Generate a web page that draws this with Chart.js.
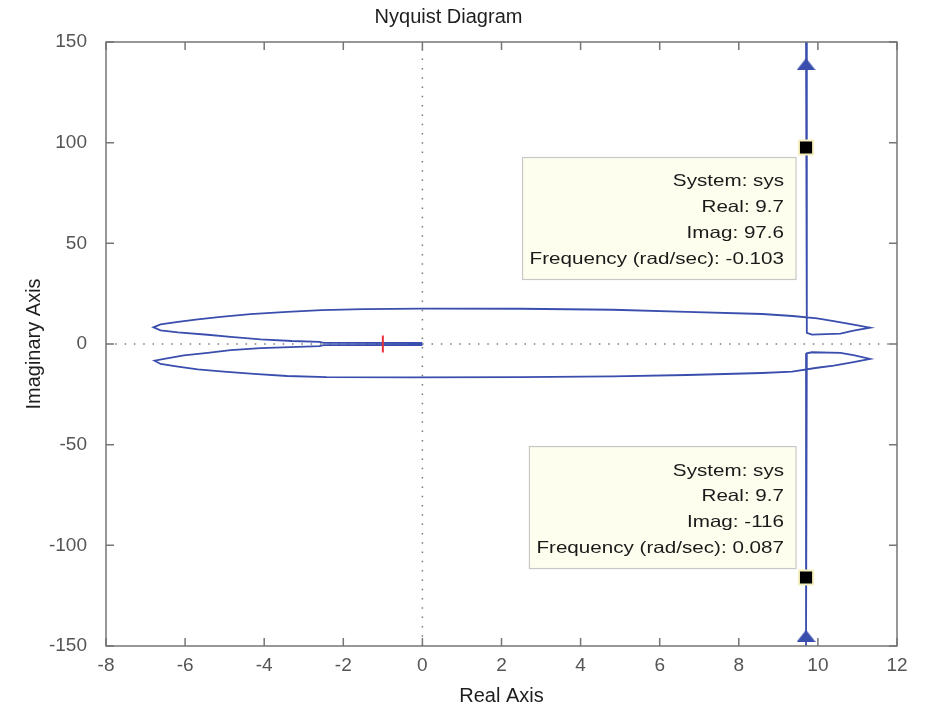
<!DOCTYPE html>
<html>
<head>
<meta charset="utf-8">
<script src="https://cdn.jsdelivr.net/npm/chart.js@4/dist/chart.umd.min.js"></script>
<style>
  html, body { margin: 0; padding: 0; background: #ffffff; }
  #wrap { width: 930px; height: 706px; }
  canvas { display: block; }
</style>
</head>
<body>
<div id="wrap"><canvas id="c" width="930" height="706"></canvas></div>
<script>
// ---------- data ----------
const chartTitle = 'Nyquist Diagram';
const xLabel = 'Real Axis';
const yLabel = 'Imaginary Axis';
const systemName = 'sys';

// upper branch: from +j infinity down, around right lobe, along top to left tip, back to origin
const realUpper = [9.7, 9.72, 9.85, 10.57, 10.9, 11.32, 10.9, 10.4, 9.98, 9.36, 8.59, 6.69, 4.82, 2.5, 0, -1.5, -2.55, -3.42, -4.35, -5.1, -5.68, -6.18, -6.62, -6.8, -6.62, -6.18, -5.43, -4.85, -4.09, -3.3, -2.6, -2.5, 0];
const imagUpper = [150, 5.5, 4.7, 5.2, 6.6, 8.1, 9.6, 11.4, 12.7, 13.9, 14.9, 16.0, 17.0, 17.5, 17.6, 17.3, 16.8, 16.0, 14.8, 13.5, 12.2, 11.0, 9.7, 8.3, 6.8, 5.8, 4.6, 3.5, 2.3, 1.5, 1.1, 0.6, 0.5];

// lower branch: from origin out to left tip, along bottom to right lobe, down to -j infinity
const realLower = [0, -2.5, -2.6, -4.09, -4.85, -5.43, -6.03, -6.53, -6.77, -6.62, -6.18, -5.68, -5.02, -4.26, -3.42, -2.42, -0.24, 2.5, 4.82, 6.69, 8.59, 9.35, 9.98, 10.4, 10.9, 11.32, 10.9, 10.57, 9.85, 9.72, 9.7];
const imagLower = [-0.5, -0.6, -1.1, -2.0, -3.0, -4.4, -5.7, -7.4, -8.3, -9.9, -11.2, -12.6, -13.7, -14.8, -15.9, -16.5, -16.6, -16.5, -16.1, -15.4, -14.4, -13.7, -11.8, -10.7, -9.0, -7.4, -5.5, -4.4, -4.1, -4.6, -150];

// direction arrows
const arrowRe = [9.7, 9.7];
const arrowIm = [139, -145];

// data tips
const tipRe = [9.7, 9.7];
const tipIm = [97.6, -116];
const tipFreq = ['-0.103', '0.087'];

// critical point -1 + j0
const critRe = [-1];
const critIm = [0];

// axes
const xMin = -8, xMax = 12, xStep = 2;
const yMin = -150, yMax = 150, yStep = 50;

// ---------- helpers ----------
const toXY = (xs, ys) => xs.map((v, i) => ({ x: v, y: ys[i] }));
const FONT = "'Liberation Sans', Arial, Helvetica, sans-serif";
const LINE = '#3a4eae';

// triangle arrow image
const tri = document.createElement('canvas');
tri.width = 19; tri.height = 12;
{
  const t = tri.getContext('2d');
  t.fillStyle = LINE;
  t.beginPath();
  t.moveTo(0, 12); t.lineTo(9.5, 0); t.lineTo(19, 12); t.closePath();
  t.fill();
}

const framePlugin = {
  id: 'frame',
  afterDatasetsDraw(chart) {
    const { ctx, chartArea: a, scales: { x, y } } = chart;
    ctx.save();
    ctx.strokeStyle = '#767676';
    ctx.lineWidth = 1.5;
    ctx.strokeRect(a.left, a.top, a.right - a.left, a.bottom - a.top);
    ctx.beginPath();
    const L = 8;
    x.ticks.forEach(t => {
      const p = x.getPixelForValue(t.value);
      ctx.moveTo(p, a.bottom); ctx.lineTo(p, a.bottom - L);
      ctx.moveTo(p, a.top); ctx.lineTo(p, a.top + L);
    });
    y.ticks.forEach(t => {
      const p = y.getPixelForValue(t.value);
      ctx.moveTo(a.left, p); ctx.lineTo(a.left + L, p);
      ctx.moveTo(a.right, p); ctx.lineTo(a.right - L, p);
    });
    ctx.stroke();
    ctx.restore();
  }
};

const SX = 1.25; // horizontal stretch of the datatip lettering
const datatipPlugin = {
  id: 'datatips',
  afterDatasetsDraw(chart) {
    const { ctx, scales: { x, y } } = chart;
    tipRe.forEach((re, i) => {
      const px = x.getPixelForValue(re);
      const py = y.getPixelForValue(tipIm[i]);
      const lines = ['System: ' + systemName, 'Real: ' + re, 'Imag: ' + tipIm[i], 'Frequency (rad/sec): ' + tipFreq[i]];
      ctx.save();
      ctx.font = '16.5px ' + FONT;
      const maxW = Math.max(...lines.map(l => ctx.measureText(l).width)) * SX;
      const w = maxW + 19, h = 122;
      const right = px - 10;
      const top = tipIm[i] > 0 ? py + 10 : py - 9 - h;
      const left = right - w;
      ctx.fillStyle = '#fefeee';
      ctx.fillRect(left, top, w, h);
      ctx.strokeStyle = '#c8c8c8';
      ctx.lineWidth = 1.2;
      ctx.strokeRect(left, top, w, h);
      ctx.fillStyle = '#1a1a1a';
      ctx.textAlign = 'right';
      ctx.textBaseline = 'alphabetic';
      lines.forEach((l, k) => {
        ctx.save();
        ctx.translate(right - 12, top + 29 + k * 25.7);
        ctx.scale(SX, 1);
        ctx.fillText(l, 0, 0);
        ctx.restore();
      });
      ctx.restore();
    });
  }
};

new Chart(document.getElementById('c'), {
  type: 'scatter',
  data: {
    datasets: [
      { label: 'zero-x', order: 6, data: toXY([0, 0], [yMin, yMax]), showLine: true, borderColor: '#7a7a7a', borderWidth: 1.5, borderDash: [1.5, 7.8], pointRadius: 0 },
      { label: 'zero-y', order: 6, data: toXY([xMin, xMax], [0, 0]), showLine: true, borderColor: '#7a7a7a', borderWidth: 1.5, borderDash: [1.5, 7.8], pointRadius: 0 },
      { label: 'upper', order: 4, data: toXY(realUpper, imagUpper), showLine: true, borderColor: LINE, borderWidth: 1.8, pointRadius: 0, tension: 0 },
      { label: 'lower', order: 4, data: toXY(realLower, imagLower), showLine: true, borderColor: LINE, borderWidth: 1.8, pointRadius: 0, tension: 0 },
      { label: 'arrows', order: 3, data: toXY(arrowRe, arrowIm), showLine: false, pointStyle: tri, pointRadius: 8 },
      { label: 'critical', order: 2, data: toXY(critRe, critIm), showLine: false, pointStyle: 'line', rotation: 90, pointRadius: 8.5, borderColor: '#e8303a', borderWidth: 2 },
      { label: 'tips', order: 1, data: toXY(tipRe, tipIm), showLine: false, pointStyle: 'rect', pointRadius: 10, backgroundColor: '#000000', borderColor: '#f4eec0', borderWidth: 2 }
    ]
  },
  options: {
    responsive: false,
    animation: false,
    events: [],
    layout: { padding: { left: 0, right: 33, top: 0, bottom: 0 } },
    plugins: {
      legend: { display: false },
      tooltip: { enabled: false },
      title: {
        display: true, text: chartTitle, color: '#1e1e1e',
        font: { family: FONT, size: 20, weight: 'normal' },
        padding: { top: 5, bottom: 13 }
      }
    },
    scales: {
      x: {
        type: 'linear', position: 'bottom', min: xMin, max: xMax,
        grid: { display: false }, border: { display: false },
        ticks: { stepSize: xStep, color: '#555555', padding: 0, font: { family: FONT, size: 19 } },
        title: { display: true, text: xLabel, color: '#1e1e1e', font: { family: FONT, size: 20 }, padding: { top: 0, bottom: -2 } },
        afterFit: s => { s.height = 60; }
      },
      y: {
        type: 'linear', position: 'left', min: yMin, max: yMax,
        grid: { display: false }, border: { display: false },
        ticks: { stepSize: yStep, color: '#555555', padding: 11, font: { family: FONT, size: 19 } },
        title: { display: true, text: yLabel, color: '#1e1e1e', font: { family: FONT, size: 20 }, padding: { top: 22, bottom: 0 } },
        afterFit: s => { s.width = 106; }
      }
    }
  },
  plugins: [framePlugin, datatipPlugin]
});
</script>
</body>
</html>
